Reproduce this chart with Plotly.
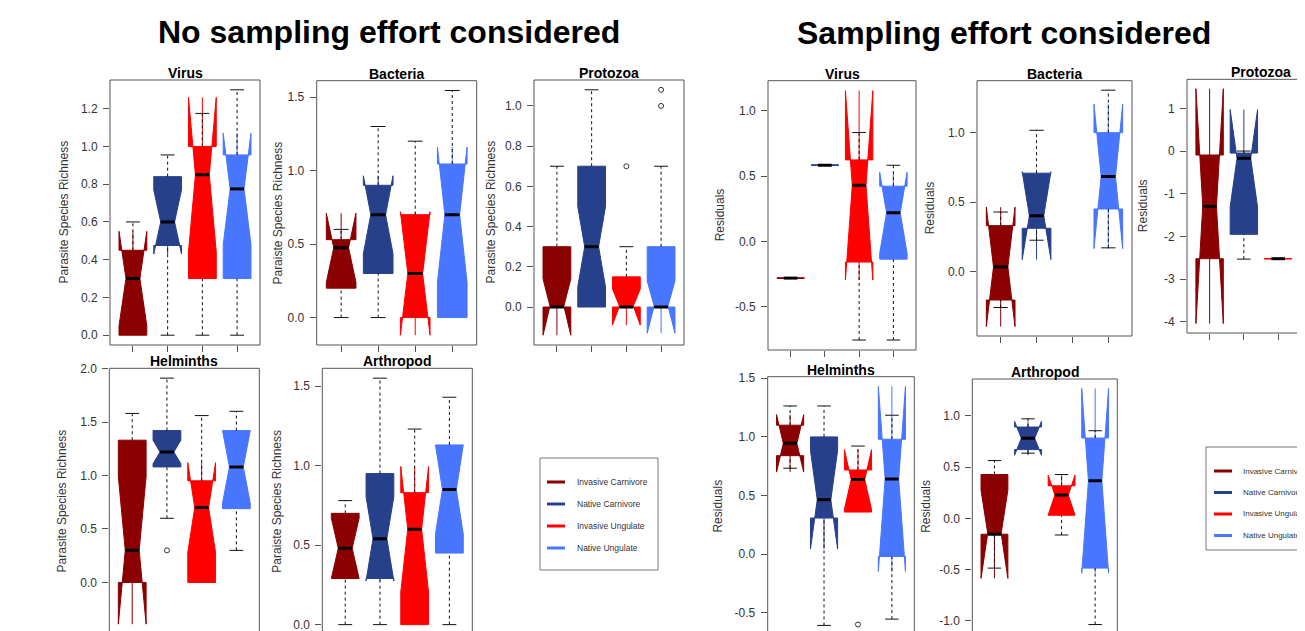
import plotly.graph_objects as go

W, H = 1305, 631
OFF = 8  # the page body keeps an 8 px margin; the figure fills the rest of the window
FONT = "Liberation Sans, Arial, sans-serif"
AXC = "#555555"

groups = ["Invasive Carnivore", "Native Carnivore", "Invasive Ungulate", "Native Ungulate"]
group_colors = ["#8B0000", "#27408B", "#FF0000", "#4876FF"]
panel_titles = ["Virus", "Bacteria", "Protozoa", "Helminths", "Arthropod"]
main_titles = ["No sampling effort considered", "Sampling effort considered"]

# ---------- No sampling effort considered (parasite species richness) ----------
# rows: Virus, Bacteria, Protozoa, Helminths, Arthropod ; cols: groups
raw_q1 = [
    [0.00, 0.475, 0.30, 0.30],
    [0.20, 0.30, 0.00, 0.00],
    [0.00, 0.00, 0.00, 0.00],
    [0.00, 1.08, 0.00, 0.69],
    [0.29, 0.29, 0.00, 0.45],
]
raw_median = [
    [0.30, 0.60, 0.85, 0.775],
    [0.475, 0.70, 0.30, 0.70],
    [0.00, 0.30, 0.00, 0.00],
    [0.30, 1.22, 0.70, 1.08],
    [0.48, 0.54, 0.60, 0.85],
]
raw_q3 = [
    [0.45, 0.84, 1.00, 0.955],
    [0.53, 0.90, 0.70, 1.045],
    [0.30, 0.70, 0.15, 0.30],
    [1.33, 1.42, 0.95, 1.42],
    [0.70, 0.95, 0.83, 1.13],
]
raw_lower = [
    [0.00, 0.00, 0.00, 0.00],
    [0.00, 0.00, 0.00, 0.00],
    [0.00, 0.00, 0.00, 0.00],
    [0.00, 0.60, 0.00, 0.30],
    [0.00, 0.00, 0.00, 0.00],
]
raw_upper = [
    [0.60, 0.955, 1.175, 1.30],
    [0.60, 1.30, 1.20, 1.545],
    [0.70, 1.08, 0.30, 0.70],
    [1.58, 1.91, 1.56, 1.60],
    [0.78, 1.55, 1.23, 1.43],
]
raw_notch = [
    [0.25, 0.17, 0.41, 0.295],
    [0.235, 0.265, 0.42, 0.46],
    [0.14, 0.20, 0.09, 0.13],
    [0.69, 0.11, 0.42, 0.34],
    [0.19, 0.265, 0.395, 0.28],
]
raw_outliers = [
    [[], [], [], []],
    [[], [], [], []],
    [[], [], [0.70], [1.00, 1.08]],
    [[], [0.30], [], []],
    [[], [], [], []],
]
raw_ylabels = ["Parasite Species Richness", "Paraiste Species Richness", "Parasite Species Richness",
               "Parasite Species Richness", "Paraiste Species Richness"]
raw_yticklabels = [
    ["0.0", "0.2", "0.4", "0.6", "0.8", "1.0", "1.2"],
    ["0.0", "0.5", "1.0", "1.5"],
    ["0.0", "0.2", "0.4", "0.6", "0.8", "1.0"],
    ["0.0", "0.5", "1.0", "1.5", "2.0"],
    ["0.0", "0.5", "1.0", "1.5"],
]

# ---------- Sampling effort considered (residuals) ----------
res_q1 = [
    [-0.28, 0.585, -0.157, -0.135],
    [-0.206, 0.311, None, 0.45],
    [-2.52, -1.95, -2.52, -1.95],
    [0.84, 0.308, 0.359, -0.02],
    [-0.155, 0.67, 0.03, -0.485],
]
res_median = [
    [-0.28, 0.585, 0.43, 0.22],
    [0.033, 0.402, None, 0.684],
    [-1.29, -0.17, -2.52, -0.785],
    [0.945, 0.464, 0.636, 0.642],
    [-0.155, 0.78, 0.227, 0.366],
]
res_q3 = [
    [-0.28, 0.585, 0.625, 0.424],
    [0.33, 0.708, None, 1.00],
    [-0.093, -0.047, -2.52, -0.093],
    [1.10, 1.00, 0.718, 0.98],
    [0.427, 0.89, 0.317, 0.783],
]
res_lower = [
    [-0.28, 0.585, -0.754, -0.754],
    [-0.26, 0.225, None, 0.17],
    [-2.52, -2.53, -2.52, -2.53],
    [0.733, -0.608, 0.359, -0.554],
    [-0.485, 0.635, -0.162, -1.035],
]
res_upper = [
    [-0.28, 0.585, 0.835, 0.584],
    [0.428, 1.017, None, 1.306],
    [-0.093, 0.00, -2.52, 0.00],
    [1.264, 1.264, 0.922, 1.185],
    [0.563, 0.97, 0.427, 0.854],
]
res_notch = [
    [0.0, 0.0, 0.725, 0.31],
    [0.43, 0.316, None, 0.52],
    [2.75, 1.14, 0.0, 1.45],
    [0.245, 0.42, 0.255, 0.79],
    [0.43, 0.165, 0.195, 0.90],
]
res_outliers = [
    [[], [], [], []],
    [[], [], [], []],
    [[], [], [], []],
    [[], [], [-0.60], []],
    [[], [], [], []],
]
res_ylabel = "Residuals"
res_yticklabels = [
    ["-0.5", "0.0", "0.5", "1.0"],
    ["0.0", "0.5", "1.0"],
    ["-4", "-3", "-2", "-1", "0", "1"],
    ["-0.5", "0.0", "0.5", "1.0", "1.5"],
    ["-1.0", "-0.5", "0.0", "0.5", "1.0"],
]

# ---------- layout (window-pixel frames of each panel: left, top, right, bottom) ----------
raw_frames = [(110, 80, 260, 345), (316.7, 80.7, 476.7, 345), (534, 80, 684, 345),
              (109.3, 368.3, 259.3, 634), (322.3, 368.3, 472.3, 634.5)]
raw_label_gap = [47, 39, 44, 47, 45]
res_frames = [(768, 80.7, 916, 350), (977, 80.7, 1132, 336), (1187, 79.3, 1335, 333),
              (767.7, 376.7, 914.3, 635), (972.3, 379, 1117.3, 634)]
res_label_gap = [48, 47, 44, 50, 47]

FW, FH = W - OFF, H - OFF

fig = go.Figure()
shapes = []
annotations = []
axes = {}


def px_x(x):
    return (x - OFF) / FW


def px_y(y):
    return 1 - (y - OFF) / FH


def add_panel(n, frame, q1s, meds, q3s, los, his, nss, outs, ytl, ylabel, gap, title):
    xa = "x" if n == 1 else f"x{n}"
    ya = "y" if n == 1 else f"y{n}"
    vals = []
    for i in range(4):
        if q1s[i] is None:
            continue
        vals += [los[i], his[i], meds[i] - nss[i], meds[i] + nss[i]] + list(outs[i])
    lo, hi = min(vals), max(vals)
    pad = 0.04 * (hi - lo)
    yr = [lo - pad, hi + pad]
    xr = [0.5 - 0.16, 4.5 + 0.16]
    x0, y0, x1, y1 = frame
    vx1, vy1 = min(x1, W), min(y1, H)
    xr[1] = xr[0] + (xr[1] - xr[0]) * (vx1 - x0) / (x1 - x0)
    yr[0] = yr[1] - (yr[1] - yr[0]) * (vy1 - y0) / (y1 - y0)

    wx, wy, cx, cy, mx, my, ox, oy = [], [], [], [], [], [], [], []
    for i in range(4):
        if q1s[i] is None:
            continue
        p = i + 1
        fig.add_trace(go.Box(
            x=[p], q1=[q1s[i]], median=[meds[i]], q3=[q3s[i]],
            lowerfence=[q1s[i]], upperfence=[q3s[i]], notchspan=[nss[i]],
            notched=True, notchwidth=0.25, width=0.8,
            fillcolor=group_colors[i], line=dict(color=group_colors[i], width=1),
            whiskerwidth=0, boxpoints=False, name=groups[i],
            xaxis=xa, yaxis=ya, showlegend=False, hoverinfo="skip"))
        if his[i] > q3s[i]:
            wx += [p, p, None]; wy += [q3s[i], his[i], None]
            cx += [p - 0.2, p + 0.2, None]; cy += [his[i], his[i], None]
        if los[i] < q1s[i]:
            wx += [p, p, None]; wy += [los[i], q1s[i], None]
            cx += [p - 0.2, p + 0.2, None]; cy += [los[i], los[i], None]
        mx += [p - 0.2, p + 0.2, None]; my += [meds[i], meds[i], None]
        for o in outs[i]:
            ox.append(p); oy.append(o)

    fig.add_trace(go.Scatter(x=wx, y=wy, mode="lines", line=dict(color="#111", width=1, dash="3px,3px"),
                             xaxis=xa, yaxis=ya, showlegend=False, hoverinfo="skip"))
    fig.add_trace(go.Scatter(x=cx, y=cy, mode="lines", line=dict(color="#111", width=1),
                             xaxis=xa, yaxis=ya, showlegend=False, hoverinfo="skip"))
    fig.add_trace(go.Scatter(x=mx, y=my, mode="lines", line=dict(color="#000", width=3),
                             xaxis=xa, yaxis=ya, showlegend=False, hoverinfo="skip"))
    if ox:
        fig.add_trace(go.Scatter(x=ox, y=oy, mode="markers",
                                 marker=dict(symbol="circle-open", size=5, color="#333", line=dict(width=1)),
                                 xaxis=xa, yaxis=ya, showlegend=False, hoverinfo="skip"))

    kx = "xaxis" if n == 1 else f"xaxis{n}"
    ky = "yaxis" if n == 1 else f"yaxis{n}"
    axes[kx] = dict(domain=[px_x(x0), px_x(vx1)], range=xr, anchor=ya, tickvals=[1, 2, 3, 4],
                    showticklabels=False, ticks="outside", ticklen=6, tickcolor=AXC,
                    showgrid=False, zeroline=False, showline=False, automargin=False)
    axes[ky] = dict(domain=[px_y(vy1), px_y(y0)], range=yr, anchor=xa,
                    tickvals=[float(t) for t in ytl], ticktext=ytl,
                    ticks="outside", ticklen=6, tickcolor=AXC, ticklabelstandoff=3,
                    ticklabeloverflow="allow",
                    tickfont=dict(size=12, color="#333", family=FONT),
                    showgrid=False, zeroline=False, showline=False, automargin=False)
    shapes.append(dict(type="rect", xref="paper", yref="paper", x0=px_x(x0), x1=px_x(x1),
                       y0=px_y(y1), y1=px_y(y0), line=dict(color=AXC, width=1), layer="above"))
    annotations.append(dict(text=f"<b>{title}</b>", xref="paper", yref="paper",
                            x=px_x((x0 + x1) / 2), y=px_y(y0 - 7), xanchor="center", yanchor="middle",
                            showarrow=False, font=dict(size=14, color="#000", family=FONT)))
    annotations.append(dict(text=ylabel, xref="paper", yref="paper", textangle=-90,
                            x=px_x(x0 - gap), y=px_y((y0 + y1) / 2), xanchor="center", yanchor="middle",
                            showarrow=False, font=dict(size=12, color="#333", family=FONT)))


n = 1
for k in range(5):
    add_panel(n, raw_frames[k], raw_q1[k], raw_median[k], raw_q3[k], raw_lower[k], raw_upper[k],
              raw_notch[k], raw_outliers[k], raw_yticklabels[k], raw_ylabels[k], raw_label_gap[k],
              panel_titles[k])
    n += 1
for k in range(5):
    add_panel(n, res_frames[k], res_q1[k], res_median[k], res_q3[k], res_lower[k], res_upper[k],
              res_notch[k], res_outliers[k], res_yticklabels[k], res_ylabel, res_label_gap[k],
              panel_titles[k])
    n += 1


def add_legend(box, line_x, text_x, y_first, dy, fsize):
    bx0, by0, bx1, by1 = box
    shapes.append(dict(type="rect", xref="paper", yref="paper", x0=px_x(bx0), x1=px_x(bx1),
                       y0=px_y(by1), y1=px_y(by0), line=dict(color="#777", width=1), layer="above"))
    for i, g in enumerate(groups):
        yy = y_first + dy * i
        shapes.append(dict(type="line", xref="paper", yref="paper", x0=px_x(line_x[0]), x1=px_x(line_x[1]),
                           y0=px_y(yy), y1=px_y(yy), line=dict(color=group_colors[i], width=3)))
        annotations.append(dict(text=g, xref="paper", yref="paper", x=px_x(text_x), y=px_y(yy),
                                xanchor="left", yanchor="middle", showarrow=False,
                                font=dict(size=fsize, color="#333", family=FONT)))


add_legend((540, 458, 658, 570), (547, 565), 575, 482, 22, 8.5)
add_legend((1206, 447, 1335, 550), (1214, 1232), 1241, 471, 21.5, 8)

annotations.append(dict(text=f"<b>{main_titles[0]}</b>", xref="paper", yref="paper", x=px_x(389), y=px_y(32),
                        xanchor="center", yanchor="middle", showarrow=False,
                        font=dict(size=32, color="#000", family=FONT)))
annotations.append(dict(text=f"<b>{main_titles[1]}</b>", xref="paper", yref="paper", x=px_x(1004), y=px_y(33),
                        xanchor="center", yanchor="middle", showarrow=False,
                        font=dict(size=32, color="#000", family=FONT)))

fig.update_layout(width=FW, height=FH, margin=dict(l=0, r=0, t=0, b=0, autoexpand=False),
                  paper_bgcolor="white", plot_bgcolor="white", showlegend=False, boxmode="overlay",
                  shapes=shapes, annotations=annotations, **axes)

fig.write_html("out.html")
